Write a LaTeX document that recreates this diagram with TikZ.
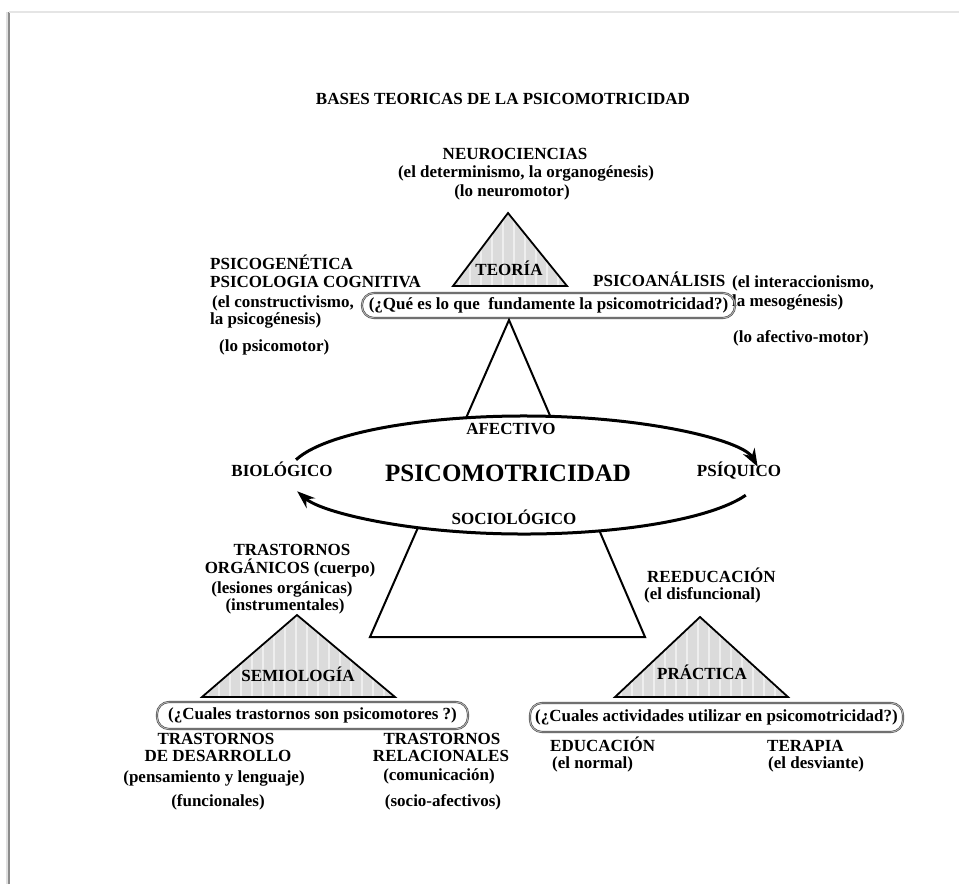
\documentclass[tikz,border=0pt]{standalone}
\usepackage{fontspec}
\setmainfont{Liberation Serif}
\usetikzlibrary{arrows.meta,calc}
\newcommand\stripetri[3]{%
  \begin{scope}
    \clip #1 -- #2 -- #3 -- cycle;
    \fill[trifill] #1 -- #2 -- #3 -- cycle;
    \foreach \sx in {6,17,...,220}
      \draw[stripe] ($#2+(\sx,-2)$) -- ++(0,120);
  \end{scope}
  \draw[tri] #1 -- #2 -- #3 -- cycle;}
\begin{document}
\begin{tikzpicture}[x=1pt,y=1pt,
  lbl/.style={font=\bfseries\fontsize{17}{18.5}\selectfont, inner sep=0pt, text height=12pt, text depth=4pt},
  lblw/.style={lbl, anchor=west},
  tri/.style={draw=black, line width=1.8pt, line join=miter},
  trifill/.style={fill=black!14},
  stripe/.style={draw=white, line width=2.5pt, opacity=0.55},
  qbox/.style={draw=black!70, double=black!30, double distance=0.9pt, line width=0.6pt,
               rounded corners=12pt, inner sep=0pt, font=\bfseries\fontsize{17}{18.5}\selectfont},
  ring/.style={line width=3pt, -{Stealth[length=18pt,width=13pt]}},
  frameline/.style={line width=1.2pt},
]
\useasboundingbox (0,0) rectangle (959,-884);
\fill[white] (0,0) rectangle (959,-884);
% page frame
\coordinate (f1) at (9,-884);
\coordinate (f2) at (9,-12);
\coordinate (f3) at (959,-12);
\draw[frameline, black!12, line width=4pt] ($(f1)+(-1.5,0)$) -- ($(f2)+(-1.5,0)$);
\draw[frameline, black!45] (f1) -- (f2);
\draw[frameline, black!10, line width=2pt] (f2) -- (f3);

% title
\node[lbl] (title) at (503,-100) {BASES TEORICAS DE LA PSICOMOTRICIDAD};

% top: neurociencias
\node[lbl] (neu1) at (515,-155) {NEUROCIENCIAS};
\node[lbl] (neu2) at (526,-173) {(el determinismo, la organogénesis)};
\node[lbl] (neu3) at (512,-192) {(lo neuromotor)};

% teoria triangle
\coordinate (tA) at (508,-213);
\coordinate (tB) at (453,-286);
\coordinate (tC) at (567,-286);
\stripetri{(tA)}{(tB)}{(tC)}
\node[lbl] (teoria) at (509,-271) {TEORÍA};

% left group
\node[lblw] (pg1) at (210,-265) {PSICOGENÉTICA};
\node[lblw] (pg2) at (210,-283) {PSICOLOGIA COGNITIVA};
\node[lblw] (pg3) at (212,-303) {(el constructivismo,};
\node[lblw] (pg4) at (210,-320) {la psicogénesis)};
\node[lblw] (pg5) at (219,-347) {(lo psicomotor)};

% right group
\node[lblw] (pa1) at (593,-282) {PSICOANÁLISIS};
\node[lblw] (pa2) at (732,-283) {(el interaccionismo,};
\node[lblw] (pa3) at (732,-302) {la mesogénesis)};
\node[lblw] (pa4) at (733,-338) {(lo afectivo-motor)};

% top question box
\node[qbox, minimum width=373pt, minimum height=25pt] (qteo) at (548.5,-305.5)
  {(¿Qué es lo que\ \ fundamente la psicomotricidad?)};

% big triangle
\coordinate (bA) at (509,-320);
\coordinate (bB) at (370,-637);
\coordinate (bC) at (645,-637);
\draw[tri, line width=2pt] (bA) -- (bB) -- (bC) -- cycle;

% ellipse
\coordinate (c) at (524,-475);
\fill[white] (c) ellipse [x radius=236pt, y radius=59pt];
\draw[ring] (c) ++(165:236pt and 59pt) arc[start angle=165, end angle=8, x radius=236pt, y radius=59pt];
\draw[ring] (c) ++(-20:236pt and 59pt) arc[start angle=-20, end angle=-164, x radius=236pt, y radius=59pt];

\node[lbl] (afec) at (511,-430) {AFECTIVO};
\node[lbl] (bio) at (282,-472) {BIOLÓGICO};
\node[lbl] (psi) at (739,-472) {PSÍQUICO};
\node[lbl] (soc) at (514,-520) {SOCIOLÓGICO};
\node[font=\bfseries\fontsize{25}{28}\selectfont, inner sep=0pt] (psm) at (508,-473) {PSICOMOTRICIDAD};

% trastornos organicos
\node[lbl] (to1) at (292,-551) {TRASTORNOS};
\node[lbl] (to2) at (290,-569) {ORGÁNICOS (cuerpo)};
\node[lbl] (to3) at (282,-589) {(lesiones orgánicas)};
\node[lbl] (to4) at (285,-606) {(instrumentales)};

% semiologia triangle
\coordinate (sA) at (297,-615);
\coordinate (sB) at (202,-697);
\coordinate (sC) at (395,-697);
\stripetri{(sA)}{(sB)}{(sC)}
\node[lbl] (semio) at (298,-677) {SEMIOLOGÍA};
\node[qbox, minimum width=311pt, minimum height=27pt] (qsem) at (312.5,-715.5)
  {(¿Cuales trastornos son psicomotores ?)};

% bottom-left groups
\node[lbl] (td1) at (216,-740) {TRASTORNOS};
\node[lbl] (td2) at (218,-757) {DE DESARROLLO};
\node[lbl] (td3) at (214,-778) {(pensamiento y lenguaje)};
\node[lbl] (td4) at (218,-802) {(funcionales)};

\node[lbl] (tr1) at (442,-740) {TRASTORNOS};
\node[lbl] (tr2) at (441,-757) {RELACIONALES};
\node[lbl] (tr3) at (439,-776) {(comunicación)};
\node[lbl] (tr4) at (443,-802) {(socio-afectivos)};

% practica
\node[lblw] (re1) at (647,-578) {REEDUCACIÓN};
\node[lblw] (re2) at (644,-595) {(el disfuncional)};
\coordinate (pA) at (700,-617);
\coordinate (pB) at (615,-697);
\coordinate (pC) at (788,-697);
\stripetri{(pA)}{(pB)}{(pC)}
\node[lbl] (prac) at (702,-675) {PRÁCTICA};
\node[qbox, minimum width=373pt, minimum height=29pt] (qpra) at (716.5,-717.5)
  {(¿Cuales actividades utilizar en psicomotricidad?)};

\node[lblw] (ed1) at (550,-747) {EDUCACIÓN};
\node[lblw] (ed2) at (552,-764) {(el normal)};
\node[lblw] (te1) at (767,-747) {TERAPIA};
\node[lblw] (te2) at (768,-764) {(el desviante)};
\end{tikzpicture}
\end{document}
